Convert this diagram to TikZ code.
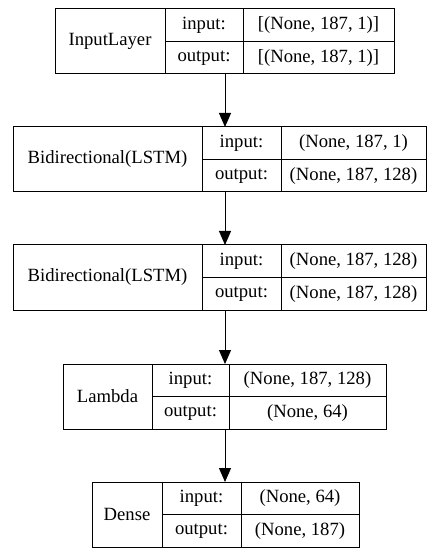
\documentclass[tikz,border=0pt]{standalone}
\usepackage{fontspec}
\setmainfont{Liberation Serif}
\usetikzlibrary{arrows.meta}
\tikzset{
  cell/.style={draw=black, line width=0.75pt, inner sep=0pt, outer sep=0pt, rectangle,
    font=\fontsize{14pt}{16pt}\selectfont, align=center},
  arr/.style={draw=black, line width=0.75pt, -{Triangle[length=10.5pt,width=9pt]}}
}
% #1 name, #2 left, #3 col1, #4 col2, #5 right, #6 top, #7 label, #8 input shape, #9 output shape
\newcommand\layerbox[9]{%
  \node[cell, anchor=north west, minimum width={(#5-#2)*0.75pt}, minimum height={65*0.75pt}] (#1) at (#2,#6) {};
  \node[cell, anchor=north west, minimum width={(#3-#2)*0.75pt}, minimum height={65*0.75pt}] (#1-name) at (#2,#6) {#7};
  \node[cell, anchor=north west, minimum width={(#4-#3)*0.75pt}, minimum height={32.5*0.75pt}] (#1-ik) at (#3,#6) {input:};
  \node[cell, anchor=south west, minimum width={(#4-#3)*0.75pt}, minimum height={32.5*0.75pt}] (#1-ok) at (#3,#6+65) {output:};
  \node[cell, anchor=north west, minimum width={(#5-#4)*0.75pt}, minimum height={32.5*0.75pt}] (#1-iv) at (#4,#6) {#8};
  \node[cell, anchor=south west, minimum width={(#5-#4)*0.75pt}, minimum height={32.5*0.75pt}] (#1-ov) at (#4,#6+65) {#9};
}
\begin{document}
\begin{tikzpicture}[x=0.75pt, y=-0.75pt]
  \useasboundingbox (0,0) rectangle (429,548);
  \layerbox{inp}{55}{165}{243}{394}{9}{InputLayer}{[(None, 187, 1)]}{[(None, 187, 1)]}
  \layerbox{bia}{13}{202}{281}{426}{127}{Bidirectional(LSTM)}{(None, 187, 1)}{(None, 187, 128)}
  \layerbox{bib}{13}{202}{281}{426}{245}{Bidirectional(LSTM)}{(None, 187, 128)}{(None, 187, 128)}
  \layerbox{lam}{63}{152}{229}{386}{364}{Lambda}{(None, 187, 128)}{(None, 64)}
  \layerbox{den}{92}{162}{241}{359}{482}{Dense}{(None, 64)}{(None, 187)}
  \coordinate (ax) at (225,0);
  \draw[arr] (inp.south -| ax) -- (bia.north -| ax);
  \draw[arr] (bia.south -| ax) -- (bib.north -| ax);
  \draw[arr] (bib.south -| ax) -- (lam.north -| ax);
  \draw[arr] (lam.south -| ax) -- (den.north -| ax);
\end{tikzpicture}
\end{document}
